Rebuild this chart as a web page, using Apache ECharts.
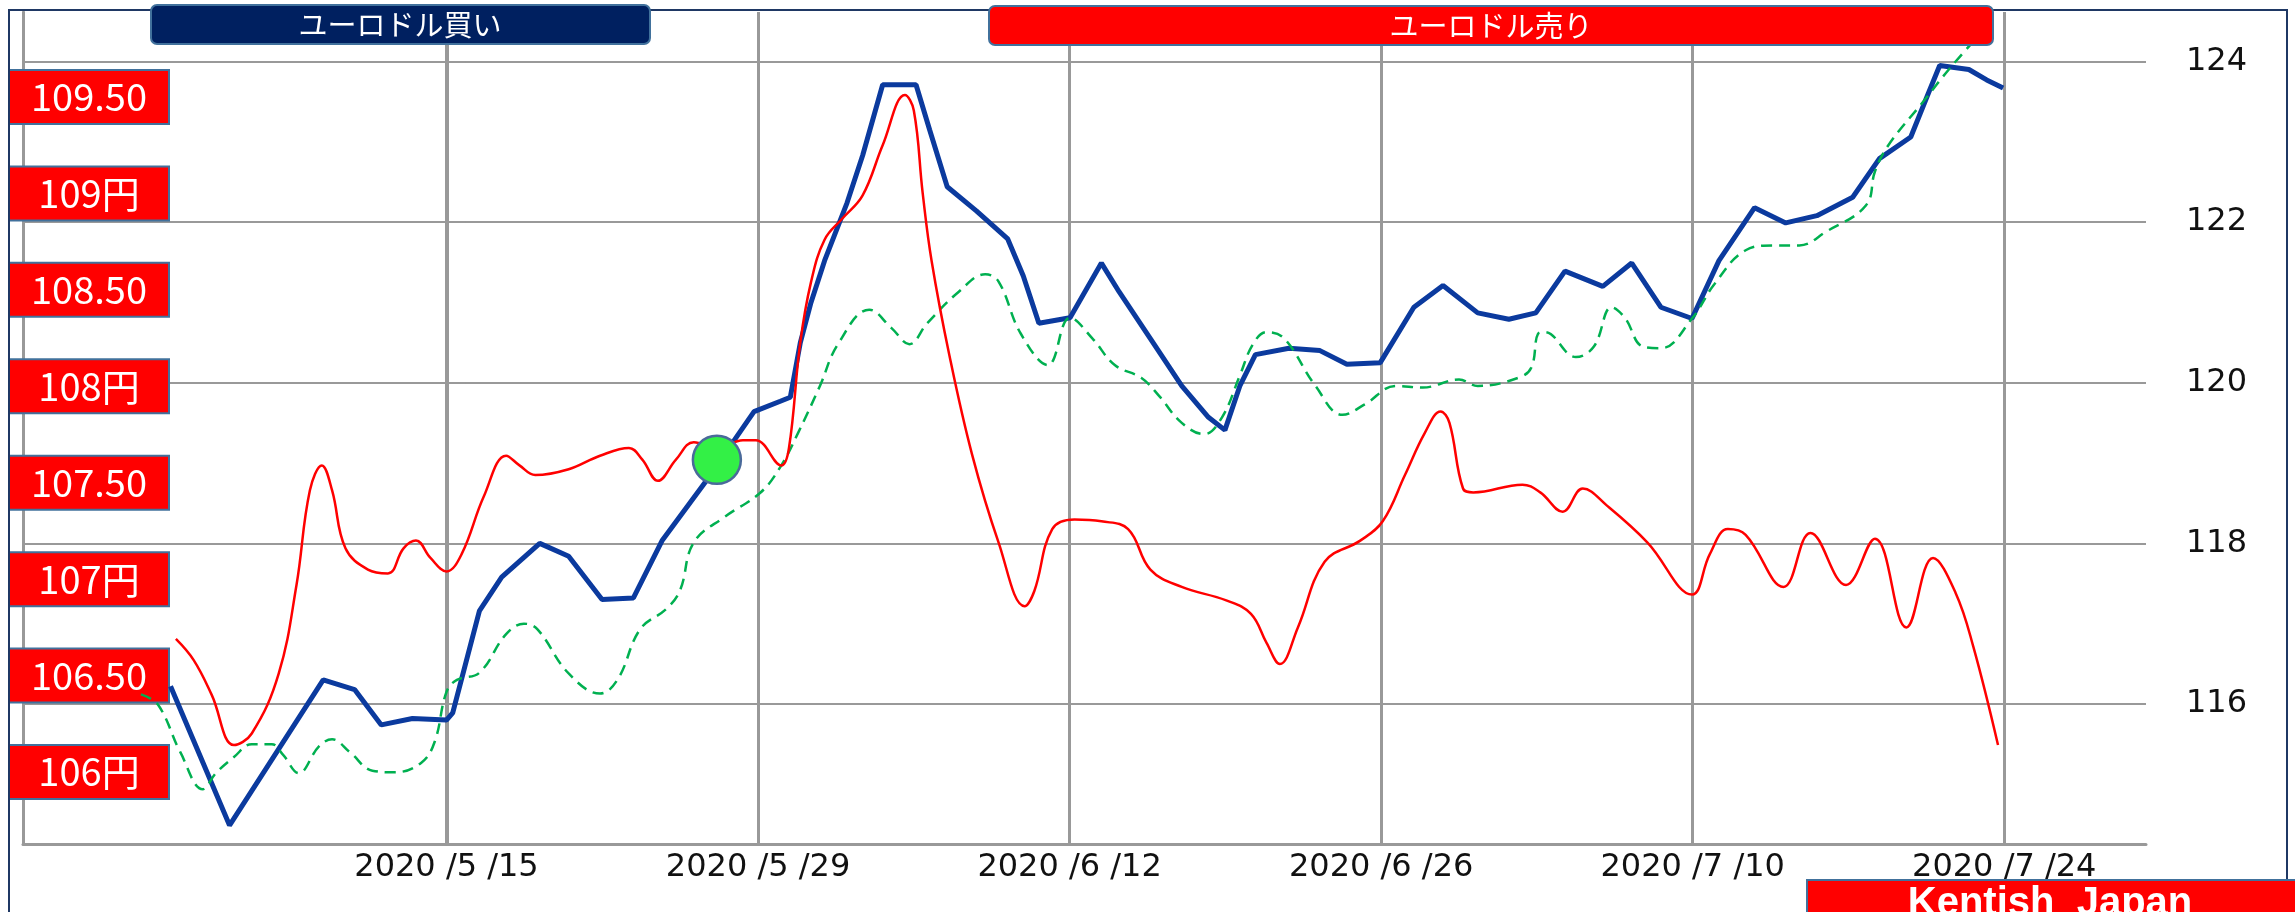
<!DOCTYPE html>
<html>
<head>
<meta charset="utf-8">
<script src="https://cdn.jsdelivr.net/npm/echarts@6/dist/echarts.min.js"></script>
<style>
html, body { margin: 0; padding: 0; background: #fff; }
#chart { width: 2295px; height: 912px; }
</style>
</head>
<body>
<div id="chart"></div>
<script>
// x = days counted from 2020/5/15
var tickDays = [0, 14, 28, 42, 56, 70];
var tickLabels = ['2020/5/15', '2020/5/29', '2020/6/12', '2020/6/26', '2020/7/10', '2020/7/24'];

// right axis (ユーロ円)
var rightTicks = [116, 118, 120, 122, 124];
// left axis (ドル円)
var leftTicks = [106, 106.5, 107, 107.5, 108, 108.5, 109, 109.5];

// blue: price
var blueX = [-12.4, -9.75, -5.54, -4.13, -2.93, -1.53, 0, 0.28, 1.48, 2.48, 4.19, 5.49, 6.99, 8.4, 9.7, 11.7, 13.82, 15.0, 15.45, 15.9, 16.38, 16.99, 18.0, 18.7, 19.6, 21.1, 21.71, 22.5, 23.81, 25.22, 25.92, 26.62, 28.02, 29.43, 30.23, 31.63, 33.04, 34.24, 34.98, 35.65, 36.35, 37.86, 39.25, 40.46, 41.96, 43.47, 44.78, 46.34, 47.74, 48.95, 50.26, 51.96, 53.26, 54.57, 55.97, 57.18, 58.78, 60.18, 61.58, 63.19, 64.39, 65.8, 66.6, 67.1, 68.41, 69.21, 69.95];
var blueY = [116.22, 114.49, 116.30, 116.18, 115.74, 115.82, 115.80, 115.89, 117.16, 117.58, 118.0, 117.84, 117.30, 117.32, 118.04, 118.79, 119.64, 119.77, 119.82, 120.5, 121.0, 121.52, 122.24, 122.83, 123.71, 123.71, 123.15, 122.44, 122.14, 121.79, 121.33, 120.74, 120.81, 121.49, 121.13, 120.55, 119.96, 119.57, 119.41, 119.96, 120.35, 120.43, 120.40, 120.23, 120.25, 120.94, 121.21, 120.87, 120.79, 120.87, 121.39, 121.2, 121.49, 120.94, 120.80, 121.52, 122.18, 121.99, 122.08, 122.31, 122.79, 123.06, 123.61, 123.95, 123.90, 123.77, 123.67];

// green dashed: average
var greenX = [-13.73, -12.96, -11.96, -10.95, -10.36, -9.55, -8.75, -7.85, -7.35, -6.64, -5.74, -5.14, -4.34, -3.33, -2.33, -1.13, -0.53, 0, 0.47, 1.48, 2.68, 3.48, 4.09, 5.49, 6.9, 7.7, 8.7, 9.9, 10.5, 11.11, 12.5, 14.1, 15.0, 15.79, 16.78, 17.59, 19.0, 20.0, 20.8, 21.6, 23.01, 24.21, 24.81, 25.81, 27.02, 28.02, 29.03, 30.03, 31.23, 32.04, 33.04, 34.04, 34.85, 35.65, 36.24, 36.85, 37.65, 39.05, 40.26, 41.26, 42.66, 43.87, 45.5, 46.34, 48.15, 48.75, 49.05, 49.35, 50.75, 51.56, 52.36, 52.95, 53.76, 54.57, 55.97, 56.98, 58.38, 59.58, 60.79, 61.99, 63.79, 64.19, 64.8, 66.39, 67.6, 69.4];
var greenY = [116.12, 115.99, 115.40, 114.94, 115.14, 115.34, 115.50, 115.50, 115.37, 115.14, 115.47, 115.56, 115.40, 115.17, 115.15, 115.27, 115.53, 116.15, 116.30, 116.39, 116.87, 117.0, 116.93, 116.38, 116.13, 116.31, 116.93, 117.19, 117.42, 118.01, 118.33, 118.63, 118.95, 119.37, 119.96, 120.48, 120.91, 120.68, 120.48, 120.74, 121.13, 121.35, 121.26, 120.61, 120.22, 120.81, 120.55, 120.22, 120.06, 119.83, 119.50, 119.36, 119.57, 120.09, 120.48, 120.63, 120.55, 119.96, 119.60, 119.73, 119.96, 119.94, 120.04, 119.96, 120.06, 120.19, 120.61, 120.63, 120.32, 120.45, 120.94, 120.81, 120.45, 120.43, 120.80, 121.23, 121.65, 121.71, 121.71, 121.88, 122.21, 122.63, 122.96, 123.51, 123.93, 124.49];

// red: left axis
var redX = [-12.16, -11.36, -10.55, -9.55, -8.75, -7.54, -6.74, -6.14, -5.6, -5.14, -4.54, -3.53, -2.63, -1.93, -1.37, -0.72, 0, 0.68, 1.68, 2.68, 3.28, 3.99, 5.49, 6.9, 8.2, 8.8, 9.5, 10.31, 11.11, 12.2, 13.32, 13.9, 15.05, 15.39, 15.89, 16.38, 16.99, 17.79, 18.7, 19.6, 20.6, 21.0, 21.4, 21.8, 22.6, 23.61, 24.81, 25.98, 26.42, 27.22, 28.22, 29.43, 30.63, 31.63, 33.04, 35.04, 36.15, 36.85, 37.45, 38.26, 39.46, 41.06, 42.07, 43.07, 43.97, 44.67, 45.07, 45.68, 46.14, 48.35, 49.15, 50.16, 51.06, 52.16, 53.97, 55.97, 56.77, 57.58, 58.38, 60.08, 61.29, 62.89, 64.19, 65.6, 66.8, 67.81, 68.61, 69.72];
var redY = [106.69, 106.58, 106.40, 106.14, 106.20, 106.51, 106.97, 107.46, 107.59, 107.46, 107.16, 107.05, 107.03, 107.16, 107.20, 107.11, 107.04, 107.13, 107.43, 107.64, 107.59, 107.54, 107.57, 107.64, 107.68, 107.62, 107.51, 107.62, 107.71, 107.68, 107.72, 107.72, 107.59, 107.68, 108.22, 108.54, 108.76, 108.87, 108.99, 109.25, 109.51, 109.43, 109.0, 108.65, 108.16, 107.65, 107.19, 106.86, 106.94, 107.26, 107.31, 107.30, 107.26, 107.05, 106.96, 106.89, 106.82, 106.67, 106.56, 106.75, 107.09, 107.20, 107.30, 107.54, 107.76, 107.87, 107.81, 107.47, 107.45, 107.49, 107.45, 107.35, 107.47, 107.38, 107.19, 106.92, 107.13, 107.26, 107.23, 106.96, 107.24, 106.97, 107.21, 106.75, 107.11, 106.93, 106.65, 106.14];

// green marker
var dotPoint = [12.15, 119.04];

function zip(xs, ys) {
    var out = [];
    for (var i = 0; i < xs.length; i++) out.push([xs[i], ys[i]]);
    return out;
}

var myChart = echarts.init(document.getElementById('chart'));
var gray = '#999999';

var option = {
    animation: false,
    backgroundColor: '#ffffff',
    grid: {
        left: 23,
        right: 149,
        top: 12,
        bottom: 68,
        containLabel: false,
        outerBoundsMode: 'none'
    },
    xAxis: {
        type: 'value',
        min: -19.03,
        max: 76.37,
        axisLine: { show: true, onZero: false, lineStyle: { color: gray, width: 3 } },
        axisTick: { show: false, customValues: tickDays },
        splitLine: { show: true, lineStyle: { color: gray, width: 3 } },
        axisLabel: {
            customValues: tickDays,
            margin: 8,
            color: '#111',
            fontSize: 32,
            fontFamily: 'DejaVu Sans',
            formatter: function (v) {
                var i = tickDays.indexOf(Math.round(v));
                return i < 0 ? '' : tickLabels[i].replace(/\//g, ' /');
            }
        }
    },
    yAxis: [
        {
            type: 'value',
            position: 'right',
            min: 114.257,
            max: 124.616,
            axisLine: { show: true, lineStyle: { color: gray, width: 4 } },
            axisTick: { show: true, length: 19, customValues: rightTicks, lineStyle: { color: gray, width: 2 } },
            splitLine: { show: true, lineStyle: { color: gray, width: 2 } },
            axisLabel: {
                customValues: rightTicks,
                margin: 40,
                color: '#111',
                fontSize: 32,
                fontFamily: 'DejaVu Sans'
            }
        },
        {
            type: 'value',
            position: 'left',
            min: 105.627,
            max: 109.9407,
            axisLine: { show: true, lineStyle: { color: gray, width: 3 } },
            axisTick: { show: false, customValues: leftTicks },
            splitLine: { show: false },
            axisLabel: {
                customValues: leftTicks,
                inside: true,
                margin: 66,
                align: 'center',
                verticalAlign: 'middle',
                color: '#fff',
                fontSize: 38,
                fontFamily: 'Noto Sans CJK JP',
                backgroundColor: '#ff0000',
                borderColor: '#41719c',
                borderWidth: 2,
                width: 158,
                height: 52,
                lineHeight: 52,
                formatter: function (v) {
                    return v % 1 === 0 ? v + '円' : v.toFixed(2);
                }
            }
        }
    ],
    series: [
        {
            name: 'price',
            type: 'line',
            yAxisIndex: 0,
            data: zip(blueX, blueY),
            showSymbol: false,
            lineStyle: { color: '#0b3a9e', width: 5 },
            z: 2
        },
        {
            name: 'average',
            type: 'line',
            yAxisIndex: 0,
            data: zip(greenX, greenY),
            showSymbol: false,
            smooth: 0.4,
            lineStyle: { color: '#00b050', width: 2.5, type: [11, 7] },
            z: 3
        },
        {
            name: 'usdjpy',
            type: 'line',
            yAxisIndex: 1,
            data: zip(redX, redY),
            showSymbol: false,
            smooth: 0.4,
            lineStyle: { color: '#ff0000', width: 2.5 },
            z: 4
        },
        {
            name: 'dot',
            type: 'scatter',
            yAxisIndex: 0,
            data: [dotPoint],
            symbolSize: 48,
            itemStyle: { color: '#33f046', borderColor: '#4a6a9a', borderWidth: 2.5, opacity: 1 },
            z: 5
        }
    ],
    graphic: [
        {
            type: 'rect', z: 1, silent: true,
            shape: { x: 9, y: 10, width: 2278, height: 940 },
            style: { fill: 'none', stroke: '#1f3864', lineWidth: 2 }
        },
        {
            type: 'rect', z: 100,
            shape: { x: 151, y: 5, width: 499, height: 39, r: 6 },
            style: { fill: '#002060', stroke: '#41719c', lineWidth: 2 }
        },
        {
            type: 'text', z: 101,
            style: {
                x: 400, y: 25, text: 'ユーロドル買い', fill: '#fff',
                fontSize: 29, fontFamily: 'Noto Sans CJK JP',
                align: 'center', verticalAlign: 'middle',
                textAlign: 'center', textVerticalAlign: 'middle'
            }
        },
        {
            type: 'rect', z: 100,
            shape: { x: 989, y: 6, width: 1004, height: 39, r: 6 },
            style: { fill: '#ff0000', stroke: '#41719c', lineWidth: 2 }
        },
        {
            type: 'text', z: 101,
            style: {
                x: 1491, y: 26, text: 'ユーロドル売り', fill: '#fff',
                fontSize: 29, fontFamily: 'Noto Sans CJK JP',
                align: 'center', verticalAlign: 'middle',
                textAlign: 'center', textVerticalAlign: 'middle'
            }
        },
        {
            type: 'rect', z: 100,
            shape: { x: 1807, y: 880, width: 490, height: 60 },
            style: { fill: '#ff0000', stroke: '#41719c', lineWidth: 2 }
        },
        {
            type: 'text', z: 101,
            style: {
                x: 2050, y: 884, text: 'Kentish  Japan', fill: '#fff',
                fontSize: 40, fontWeight: 'bold', fontFamily: 'Liberation Sans',
                align: 'center', verticalAlign: 'top',
                textAlign: 'center', textVerticalAlign: 'top'
            }
        }
    ]
};

myChart.setOption(option);
</script>
</body>
</html>
